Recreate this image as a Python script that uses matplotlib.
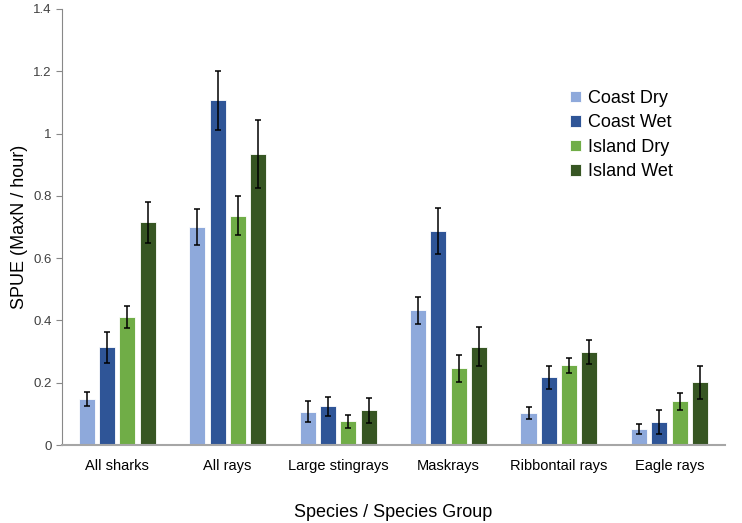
import numpy as np
import matplotlib.pyplot as plt

# --- data ---
categories = ["All sharks", "All rays", "Large stingrays", "Maskrays", "Ribbontail rays", "Eagle rays"]
series_names = ["Coast Dry", "Coast Wet", "Island Dry", "Island Wet"]
colors = ["#8EA9DB", "#2F5597", "#70AD47", "#375623"]

coast_dry = [0.148, 0.700, 0.107, 0.432, 0.102, 0.051]
coast_wet = [0.314, 1.107, 0.124, 0.687, 0.217, 0.073]
island_dry = [0.412, 0.736, 0.076, 0.247, 0.256, 0.141]
island_wet = [0.715, 0.934, 0.111, 0.316, 0.299, 0.202]

coast_dry_err = [0.023, 0.059, 0.034, 0.043, 0.019, 0.016]
coast_wet_err = [0.050, 0.095, 0.030, 0.075, 0.038, 0.038]
island_dry_err = [0.035, 0.063, 0.021, 0.043, 0.025, 0.027]
island_wet_err = [0.065, 0.110, 0.041, 0.062, 0.039, 0.053]

values = [coast_dry, coast_wet, island_dry, island_wet]
errors = [coast_dry_err, coast_wet_err, island_dry_err, island_wet_err]

plt.rcParams['font.family'] = ['Liberation Sans', 'DejaVu Sans']

fig = plt.figure(figsize=(7.42, 5.23), dpi=100)
ax = fig.add_axes([0.0836, 0.149, 0.893, 0.834])

x = np.arange(len(categories))
width = 0.145
step = 0.184
for i, (name, vals, errs, col) in enumerate(zip(series_names, values, errors, colors)):
    pos = x + (i - 1.5) * step
    ax.bar(pos, vals, width, color=col, label=name, edgecolor="white", linewidth=0.6)
    ax.errorbar(pos, vals, yerr=errs, fmt="none", ecolor="black", elinewidth=1.1,
                capsize=2.5, capthick=1.1)

ax.set_xlim(-0.5, len(categories) - 0.5)
ax.set_ylim(0, 1.4)
ax.set_yticks([0, 0.2, 0.4, 0.6, 0.8, 1, 1.2, 1.4])
ax.set_yticklabels(["0", "0.2", "0.4", "0.6", "0.8", "1", "1.2", "1.4"])
ax.set_xticks(x)
ax.set_xticklabels(categories, fontsize=10.5)
ax.tick_params(axis="x", length=0, pad=10)
ax.tick_params(axis="y", length=4, color="#888888", labelsize=9.5, labelcolor="#404040")

for s in ["top", "right"]:
    ax.spines[s].set_visible(False)
ax.spines["left"].set_color("#888888")
ax.spines["bottom"].set_color("#a6a6a6")
ax.spines["bottom"].set_linewidth(1.5)

ax.set_ylabel("SPUE (MaxN / hour)", fontsize=13)
ax.yaxis.set_label_coords(-0.051, 0.5)
ax.set_xlabel("Species / Species Group", fontsize=13, labelpad=22)

ax.legend(loc="upper left", bbox_to_anchor=(0.742, 0.852), frameon=False, fontsize=13,
          handlelength=0.6, handleheight=0.6, handletextpad=0.4, labelspacing=0.42)

plt.savefig("out.png", dpi=100)
